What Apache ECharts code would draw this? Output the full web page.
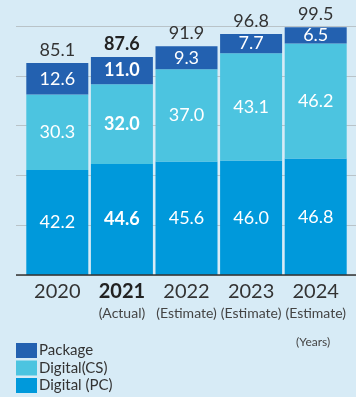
<!DOCTYPE html>
<html><head><meta charset="utf-8">
<script src="https://cdn.jsdelivr.net/npm/echarts@6/dist/echarts.min.js"></script>
<style>html,body{margin:0;padding:0;background:#d7ebf6;}#c{width:356px;height:397px;}</style>
</head><body><div id="c"></div>
<script>
var years = ['2020', '2021', '2022', '2023', '2024'];
var subtitles = ['', '(Actual)', '(Estimate)', '(Estimate)', '(Estimate)'];
var digitalPC = [42.2, 44.6, 45.6, 46.0, 46.8];
var digitalCS = [30.3, 32.0, 37.0, 43.1, 46.2];
var packageVals = [12.6, 11.0, 9.3, 7.7, 6.5];
var totals = [85.1, 87.6, 91.9, 96.8, 99.5];
var boldIndex = 1;

var FONT = 'Lato';
var chart = echarts.init(document.getElementById('c'));

function segLabel() {
  return {
    show: true, position: 'inside', color: '#ffffff', fontFamily: FONT, fontSize: 18,
    formatter: function (p) { return p.dataIndex === boldIndex ? '{b|' + p.value.toFixed(1) + '}' : p.value.toFixed(1); },
    rich: { b: { fontWeight: 'bold', fontSize: 18, color: '#ffffff', fontFamily: FONT } }
  };
}

var option = {
  backgroundColor: '#d7ebf6',
  animation: false,
  grid: [
    { left: 16, right: 0, top: 26, bottom: 122 },
    { left: 25, right: 8, top: 26, bottom: 122 }
  ],
  xAxis: [
    { gridIndex: 0, type: 'value', min: 0, max: 1, show: false },
    {
      gridIndex: 1, type: 'category', data: years,
      axisLine: { show: false }, axisTick: { show: false },
      axisLabel: {
        interval: 0, margin: 5, fontFamily: FONT, color: '#333',
        formatter: function (v, i) {
          var y = i === boldIndex ? '{yb|' + v + '}' : '{y|' + v + '}';
          return subtitles[i] ? y + '\n{s|' + subtitles[i] + '}' : y + '\n{s| }';
        },
        rich: {
          y: { fontSize: 20, lineHeight: 24, color: '#333', fontFamily: FONT },
          yb: { fontSize: 20, lineHeight: 24, color: '#222', fontWeight: 'bold', fontFamily: FONT },
          s: { fontSize: 14, lineHeight: 18, color: '#444', fontFamily: FONT }
        }
      }
    }
  ],
  yAxis: [
    {
      gridIndex: 0, type: 'value', min: 0, max: 100, interval: 20,
      axisLabel: { show: false }, axisTick: { show: false },
      axisLine: { show: false },
      splitLine: { show: true, lineStyle: { color: '#b9c3c8', width: 1 } }
    },
    {
      gridIndex: 1, type: 'value', min: 0, max: 100, interval: 20,
      show: false
    }
  ],
  legend: {
    orient: 'vertical', left: 16, top: 343, padding: 0, itemWidth: 21, itemHeight: 15, itemGap: 2.5,
    height: 60,
    data: ['Package', 'Digital(CS)', 'Digital (PC)'],
    textStyle: { fontFamily: FONT, fontSize: 15, lineHeight: 15, color: '#333', padding: [0, 0, 0, -3] },
    icon: 'rect'
  },
  graphic: [
    { type: 'line', shape: { x1: 16, y1: 275, x2: 356, y2: 275 }, style: { stroke: '#333', lineWidth: 1.5 }, z: 10 },
    { type: 'text', left: 296, top: 336, style: { text: '(Years)', fontFamily: FONT, fontSize: 12, fill: '#444' } }
  ],
  series: [
    {
      name: 'Digital (PC)', type: 'bar', stack: 'a', xAxisIndex: 1, yAxisIndex: 1,
      data: digitalPC, barWidth: 62, itemStyle: { color: '#0099db' }, label: segLabel()
    },
    {
      name: 'Digital(CS)', type: 'bar', stack: 'a', xAxisIndex: 1, yAxisIndex: 1,
      data: digitalCS, barWidth: 62, itemStyle: { color: '#4cc4e0' }, label: segLabel()
    },
    {
      name: 'Package', type: 'bar', stack: 'a', xAxisIndex: 1, yAxisIndex: 1,
      data: packageVals, barWidth: 62, itemStyle: { color: '#2361b0' }, label: segLabel()
    },
    {
      name: 'Total', type: 'bar', stack: 'a', xAxisIndex: 1, yAxisIndex: 1,
      data: totals.map(function () { return 0; }), barWidth: 62,
      itemStyle: { color: 'transparent' },
      label: {
        show: true, position: 'top', distance: 4, fontFamily: FONT, fontSize: 18, color: '#333',
        formatter: function (p) { return p.dataIndex === boldIndex ? '{b|' + totals[p.dataIndex].toFixed(1) + '}' : totals[p.dataIndex].toFixed(1); },
        rich: { b: { fontWeight: 'bold', fontSize: 18, color: '#222', fontFamily: FONT } }
      }
    }
  ]
};
chart.setOption(option);
</script>
</body></html>
